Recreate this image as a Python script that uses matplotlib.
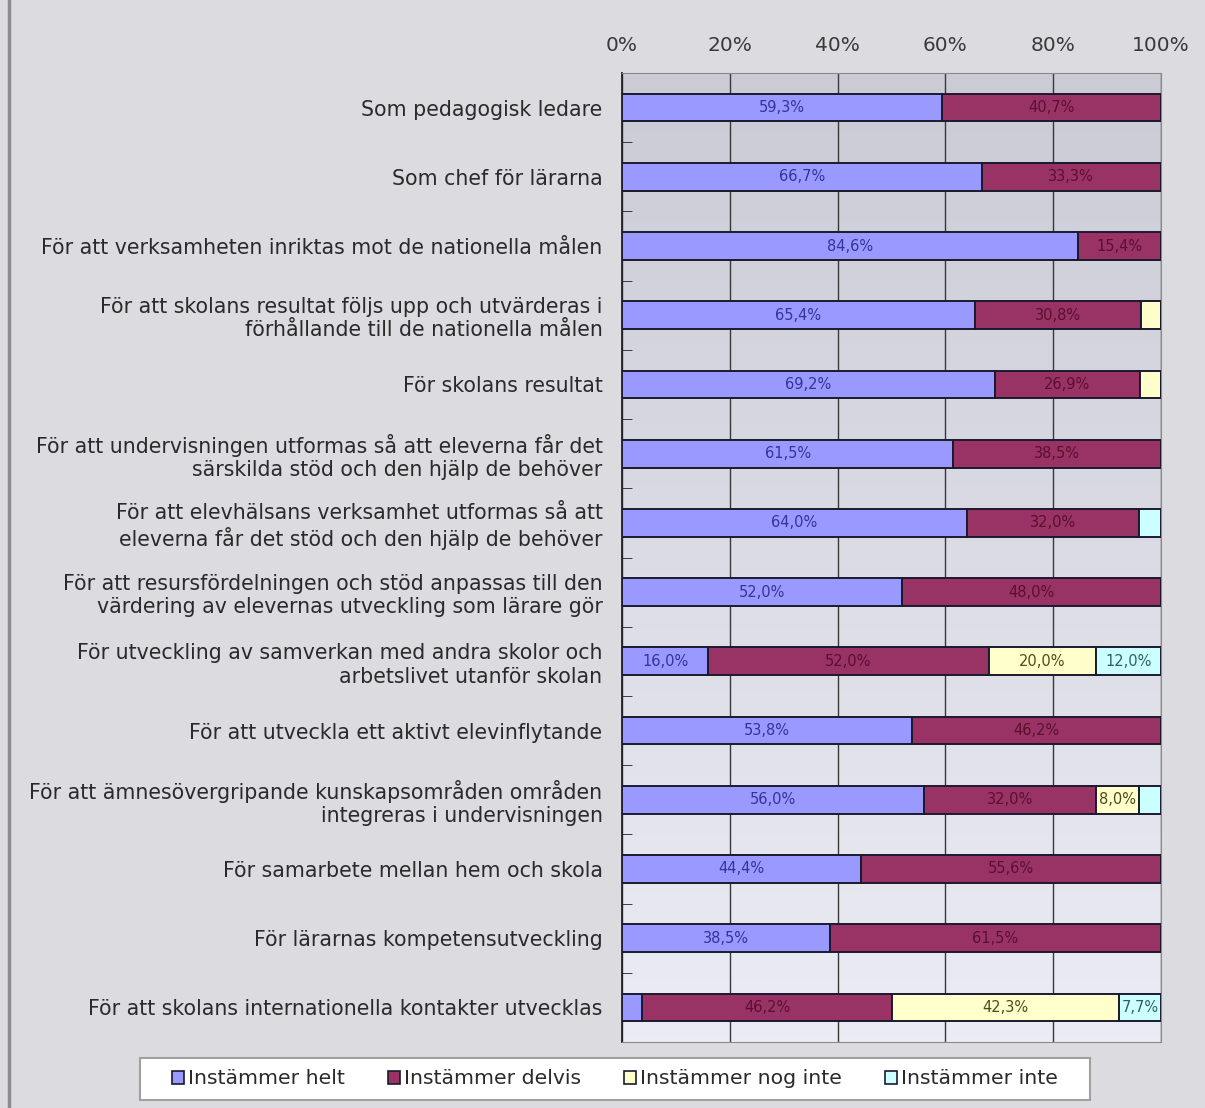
import numpy as np
import matplotlib.pyplot as plt
from matplotlib.patches import Patch, Rectangle
from matplotlib.colors import LinearSegmentedColormap

categories = [
    "Som pedagogisk ledare",
    "Som chef för lärarna",
    "För att verksamheten inriktas mot de nationella målen",
    "För att skolans resultat följs upp och utvärderas i\nförhållande till de nationella målen",
    "För skolans resultat",
    "För att undervisningen utformas så att eleverna får det\nsärskilda stöd och den hjälp de behöver",
    "För att elevhälsans verksamhet utformas så att\neleverna får det stöd och den hjälp de behöver",
    "För att resursfördelningen och stöd anpassas till den\nvärdering av elevernas utveckling som lärare gör",
    "För utveckling av samverkan med andra skolor och\narbetslivet utanför skolan",
    "För att utveckla ett aktivt elevinflytande",
    "För att ämnesövergripande kunskapsområden områden\nintegreras i undervisningen",
    "För samarbete mellan hem och skola",
    "För lärarnas kompetensutveckling",
    "För att skolans internationella kontakter utvecklas",
]

series = ["Instämmer helt", "Instämmer delvis", "Instämmer nog inte", "Instämmer inte"]

helt = [59.3, 66.7, 84.6, 65.4, 69.2, 61.5, 64.0, 52.0, 16.0, 53.8, 56.0, 44.4, 38.5, 3.8]
delvis = [40.7, 33.3, 15.4, 30.8, 26.9, 38.5, 32.0, 48.0, 52.0, 46.2, 32.0, 55.6, 61.5, 46.2]
nog_inte = [0, 0, 0, 3.8, 3.9, 0, 0, 0, 20.0, 0, 8.0, 0, 0, 42.3]
inte = [0, 0, 0, 0, 0, 0, 4.0, 0, 12.0, 0, 4.0, 0, 0, 7.7]

values = [helt, delvis, nog_inte, inte]
colors = ["#9999ff", "#993366", "#ffffcc", "#ccffff"]
text_colors = ["#333399", "#5a0f2e", "#4d4d1a", "#2d5f66"]

fig = plt.figure(figsize=(12.05, 11.08), dpi=100)
fig.patch.set_facecolor("#dcdce0")

# left frame edge
fig.add_artist(plt.Line2D([0.0075, 0.0075], [0, 1], color="#8c8c90", lw=2.5))

ax = fig.add_axes([622 / 1205, 1 - 1042 / 1108, 539 / 1205, 969 / 1108])

# gradient background of plot area
grad = np.linspace(0, 1, 256).reshape(-1, 1)
ax.imshow(grad, extent=(0, 100, 13.5, -0.5), aspect="auto", zorder=0,
          cmap=LinearSegmentedColormap.from_list("bg", ["#cbcbd6", "#ececf4"]))

y = np.arange(len(categories))
left = np.zeros(len(categories))
for vals, col, tcol, name in zip(values, colors, text_colors, series):
    vals = np.array(vals)
    ax.barh(y, vals, left=left, height=0.4, color=col, edgecolor="#1a1a2e",
            linewidth=1.4, zorder=3, label=name)
    for yi, (l, v) in enumerate(zip(left, vals)):
        if v >= 5:
            ax.text(l + v / 2, yi, f"{v:.1f}%".replace(".", ","), ha="center",
                    va="center", fontsize=10.5, color=tcol, zorder=4)
    left += vals

ax.set_xlim(0, 100)
ax.set_ylim(13.5, -0.5)
ax.set_xticks([0, 20, 40, 60, 80, 100])
ax.set_xticklabels(["0%", "20%", "40%", "60%", "80%", "100%"])
ax.xaxis.tick_top()
ax.tick_params(axis="x", length=0, pad=13, labelsize=14.5, labelcolor="#3a3a3a")
ax.grid(axis="x", color="#383838", linewidth=1.0, zorder=1)

ax.set_yticks(y)
ax.set_yticklabels(categories, fontsize=14.8, color="#2a2a2a", linespacing=1.2)
ax.set_yticks(np.arange(-0.5, 14, 1), minor=True)
ax.tick_params(axis="y", which="major", length=0, pad=14)
ax.tick_params(axis="y", which="minor", direction="in", length=7, color="#222222")

for side in ["top", "right", "bottom"]:
    ax.spines[side].set_color("#8a8a8a")
ax.spines["left"].set_color("#222222")
ax.spines["left"].set_linewidth(1.3)

# legend box
fig.add_artist(Rectangle((140 / 1205, 8 / 1108), 950 / 1205, 42 / 1108,
                         transform=fig.transFigure, facecolor="white",
                         edgecolor="#a0a0a0", linewidth=1.5, zorder=1))
handles = [Patch(facecolor=c, edgecolor="#1a1a2e", linewidth=1.2) for c in colors]
leg = fig.legend(handles, series, loc="center", ncol=4,
                 bbox_to_anchor=(615 / 1205, 29 / 1108),
                 frameon=False, fontsize=14.7,
                 handlelength=0.6, handleheight=0.6, handletextpad=0.2,
                 columnspacing=2.1, borderaxespad=0)
leg.set_zorder(2)
for t in leg.get_texts():
    t.set_color("#2a2a2a")

fig.savefig("out.png", dpi=100, facecolor=fig.get_facecolor())
